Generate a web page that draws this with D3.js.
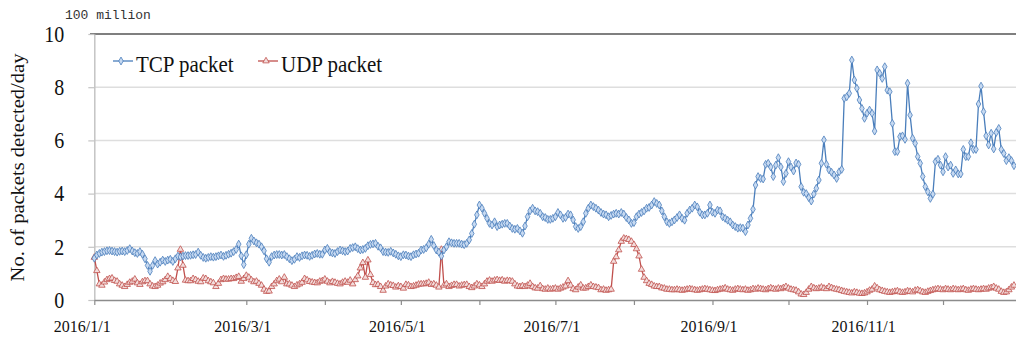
<!DOCTYPE html>
<html><head><meta charset="utf-8">
<script src="https://cdn.jsdelivr.net/npm/d3@7"></script>
<style>body{margin:0;background:#fff;} svg{display:block;}</style>
</head><body><svg id="c" width="1016" height="340"></svg>
<script>
const startDate = new Date(2016, 0, 1);
const seriesNames = ["TCP packet", "UDP packet"];
const unitLabel = "100 million";
const yTitle = "No. of packets detected/day";
const yTicks = [0, 2, 4, 6, 8, 10];

const tcpValues = [
1.57,1.69,1.75,1.80,1.82,1.85,1.86,1.84,1.82,1.80,
1.83,1.84,1.82,1.86,1.93,1.84,1.78,1.75,1.82,1.72,
1.55,1.30,1.08,1.30,1.48,1.35,1.42,1.50,1.45,1.50,
1.53,1.45,1.55,1.65,1.62,1.65,1.67,1.67,1.68,1.70,
1.71,1.80,1.68,1.60,1.57,1.60,1.63,1.61,1.63,1.66,
1.69,1.64,1.68,1.72,1.76,1.82,1.90,2.10,1.66,1.33,
1.70,2.10,2.32,2.22,2.15,2.10,2.00,1.85,1.55,1.42,
1.63,1.69,1.71,1.71,1.69,1.71,1.63,1.55,1.48,1.53,
1.63,1.60,1.66,1.69,1.68,1.64,1.68,1.73,1.75,1.72,
1.72,1.88,1.94,1.80,1.77,1.75,1.82,1.88,1.85,1.82,
1.84,1.94,1.97,2.00,1.93,1.88,1.90,1.94,2.04,2.09,
2.11,2.13,2.02,1.96,1.82,1.80,1.79,1.83,1.77,1.72,
1.66,1.63,1.70,1.69,1.65,1.63,1.70,1.73,1.76,1.88,
1.90,1.96,2.10,2.28,2.05,1.88,1.80,1.65,1.88,2.00,
2.19,2.15,2.13,2.13,2.13,2.10,2.08,2.13,2.26,2.50,
2.85,3.20,3.57,3.45,3.26,3.07,2.88,2.82,2.94,2.76,
2.82,2.85,2.88,2.88,2.78,2.69,2.66,2.69,2.60,2.51,
2.78,3.13,3.35,3.45,3.35,3.32,3.26,3.13,3.10,3.03,
3.03,3.07,3.13,3.29,3.20,3.07,3.10,3.23,3.20,3.01,
2.76,2.69,2.76,2.94,3.26,3.45,3.57,3.51,3.45,3.38,
3.29,3.23,3.20,3.13,3.18,3.23,3.26,3.23,3.29,3.23,
3.10,3.01,2.88,2.91,3.13,3.23,3.29,3.35,3.45,3.48,
3.57,3.70,3.63,3.57,3.35,3.13,2.94,2.88,2.94,3.01,
3.10,3.20,3.07,3.00,3.26,3.38,3.45,3.57,3.50,3.30,
3.20,3.20,3.26,3.57,3.30,3.26,3.38,3.35,3.13,3.07,
3.00,2.94,2.82,2.76,2.70,2.72,2.70,2.57,2.82,3.07,
3.41,4.32,4.64,4.57,4.55,5.10,5.14,5.00,4.64,5.07,
5.35,5.00,4.45,4.76,5.20,5.00,4.85,5.15,5.10,4.26,
4.05,4.00,3.85,3.72,3.98,4.20,4.51,5.14,6.02,5.10,
4.89,4.80,4.70,4.57,4.82,4.91,7.58,7.64,7.77,9.02,
8.27,7.96,7.52,7.20,6.83,7.02,7.14,7.02,6.35,8.65,
8.52,8.33,8.77,7.89,7.83,6.64,5.58,5.58,6.14,6.17,
6.04,8.15,6.95,6.08,5.89,5.39,5.14,4.64,4.26,4.07,
3.82,3.98,5.20,5.29,5.07,4.82,5.39,5.00,5.07,4.76,
4.89,4.74,4.74,5.66,5.39,5.39,5.91,5.66,5.66,7.37,
8.04,7.08,6.17,5.83,6.27,5.68,6.30,6.45,5.66,5.51,
5.24,5.35,5.24,5.05
];

const udpValues = [
1.60,1.10,0.60,0.55,0.67,0.76,0.80,0.82,0.73,0.70,
0.60,0.55,0.50,0.58,0.66,0.70,0.78,0.64,0.58,0.68,
0.72,0.72,0.60,0.52,0.50,0.55,0.63,0.68,0.76,0.88,
0.80,0.73,0.69,1.20,1.90,1.30,0.74,0.72,0.72,0.80,
0.76,0.70,0.68,0.82,0.80,0.72,0.68,0.64,0.50,0.62,
0.76,0.80,0.78,0.78,0.80,0.80,0.84,0.88,0.70,0.80,
0.92,0.85,0.75,0.68,0.70,0.62,0.55,0.40,0.32,0.33,
0.50,0.60,0.72,0.78,0.68,0.85,0.60,0.60,0.55,0.50,
0.56,0.60,0.66,0.80,0.75,0.69,0.67,0.65,0.64,0.70,
0.72,0.78,0.70,0.64,0.69,0.66,0.62,0.60,0.66,0.70,
0.66,0.74,0.60,0.76,0.90,1.20,1.40,0.85,1.50,0.95,
0.65,0.57,0.58,0.50,0.36,0.52,0.60,0.56,0.54,0.48,
0.53,0.50,0.44,0.58,0.56,0.50,0.52,0.55,0.59,0.60,
0.60,0.62,0.66,0.58,0.60,0.55,0.48,1.90,0.55,0.60,
0.50,0.54,0.58,0.58,0.52,0.55,0.57,0.58,0.50,0.46,
0.52,0.60,0.56,0.50,0.60,0.70,0.74,0.70,0.74,0.76,
0.73,0.75,0.70,0.73,0.72,0.70,0.60,0.52,0.50,0.53,
0.50,0.55,0.62,0.50,0.45,0.44,0.53,0.42,0.40,0.44,
0.40,0.42,0.44,0.40,0.44,0.48,0.52,0.72,0.55,0.42,
0.38,0.48,0.56,0.44,0.45,0.50,0.56,0.50,0.48,0.46,
0.38,0.40,0.36,0.38,0.40,1.45,1.62,1.88,2.20,2.32,
2.30,2.27,2.20,2.08,1.92,1.65,1.15,0.85,0.72,0.62,
0.58,0.52,0.50,0.50,0.45,0.44,0.40,0.40,0.38,0.38,
0.40,0.38,0.36,0.38,0.40,0.42,0.40,0.38,0.36,0.38,
0.40,0.42,0.40,0.38,0.36,0.35,0.38,0.40,0.42,0.45,
0.40,0.38,0.36,0.40,0.42,0.40,0.38,0.40,0.36,0.38,
0.42,0.40,0.44,0.42,0.40,0.38,0.42,0.45,0.42,0.40,
0.44,0.42,0.46,0.50,0.44,0.40,0.38,0.36,0.30,0.22,
0.20,0.28,0.40,0.50,0.45,0.42,0.44,0.48,0.44,0.42,
0.50,0.46,0.42,0.40,0.38,0.35,0.32,0.30,0.28,0.26,
0.30,0.28,0.25,0.24,0.26,0.30,0.36,0.40,0.52,0.45,
0.38,0.35,0.32,0.30,0.28,0.30,0.32,0.34,0.30,0.28,
0.30,0.34,0.32,0.30,0.36,0.38,0.34,0.30,0.28,0.32,
0.35,0.38,0.40,0.42,0.40,0.38,0.42,0.40,0.38,0.42,
0.40,0.38,0.40,0.42,0.38,0.36,0.40,0.42,0.40,0.38,
0.40,0.42,0.40,0.44,0.46,0.50,0.44,0.40,0.32,0.28,
0.30,0.38,0.48,0.55
];

const dates = d3.timeDay.range(startDate, d3.timeDay.offset(startDate, tcpValues.length));
const SY = 1.14;
const serif = "'Liberation Serif','Times New Roman',serif";

const svg = d3.select("#c");
const x = d3.scaleTime().domain([new Date(2016,0,1), new Date(2017,0,1)]).range([94.3, 94.3 + 366 * 2.5335]);
const y = d3.scaleLinear().domain([0, 10]).range([300, 34]);

// gridlines
svg.append("g").selectAll("line").data(yTicks.filter(d => d > 0 && d < 10)).join("line")
  .attr("x1", 94).attr("x2", 1016).attr("y1", d => y(d)).attr("y2", d => y(d))
  .attr("stroke", "#dedede").attr("stroke-width", 1.5);
// top border
svg.append("line").attr("x1", 90).attr("x2", 1016).attr("y1", y(10)).attr("y2", y(10))
  .attr("stroke", "#555").attr("stroke-width", 1.3);

// y axis
const yAxis = svg.append("g").attr("transform", "translate(94.3,0)")
  .call(d3.axisLeft(y).tickValues(yTicks).tickSize(6).tickSizeOuter(0).tickPadding(24));
yAxis.select(".domain").attr("stroke", "#c4c4c4").attr("stroke-width", 1.5);
yAxis.selectAll(".tick line").attr("stroke", "#c4c4c4").attr("stroke-width", 1.2);
yAxis.selectAll("text").attr("font-family", serif).attr("font-size", 20).attr("fill", "#111")
  .attr("transform", `scale(1,${SY})`);

// x axis
const months = d3.timeMonth.range(new Date(2016,0,1), new Date(2017,0,1));
const fmt = d3.timeFormat("%Y/%-m/%-d");
const xAxis = svg.append("g").attr("transform", "translate(0,300)")
  .call(d3.axisBottom(x).tickValues(months).tickSize(5).tickSizeOuter(0).tickPadding(16)
    .tickFormat(d => d.getMonth() % 2 === 0 ? fmt(d) : ""));
xAxis.select(".domain").attr("stroke", "#8c8c8c").attr("stroke-width", 1.5);
xAxis.selectAll(".tick line").attr("stroke", "#8c8c8c").attr("stroke-width", 1.2);
xAxis.selectAll("text").attr("font-family", serif).attr("font-size", 16).attr("fill", "#111")
  .attr("dx", (d, i) => i === 0 ? -12.5 : -4);

// series
const series = [
  {name: seriesNames[0], values: tcpValues, color: "#4a7ebb", fill: "#c6d9f1", sym: d3.symbolDiamond},
  {name: seriesNames[1], values: udpValues, color: "#c0504d", fill: "#f2dcdb", sym: d3.symbolTriangle}
];
const line = d3.line().x((d, i) => x(dates[i])).y(d => y(d));
series.slice().reverse().forEach(s => {
  const g = svg.append("g");
  g.append("path").attr("d", line(s.values)).attr("fill", "none").attr("stroke", s.color).attr("stroke-width", 1.3);
  g.selectAll("path.m").data(s.values).join("path").attr("class", "m")
    .attr("d", d3.symbol().type(s.sym).size(18))
    .attr("transform", (d, i) => `translate(${x(dates[i])},${y(d)})`)
    .attr("fill", s.fill).attr("stroke", s.color).attr("stroke-width", 0.8);
});

// legend
const legX = [113, 258];
series.forEach((s, i) => {
  const g = svg.append("g");
  g.append("line").attr("x1", legX[i]).attr("x2", legX[i] + 20).attr("y1", 61).attr("y2", 61)
    .attr("stroke", s.color).attr("stroke-width", 1.3);
  g.append("path").attr("d", d3.symbol().type(s.sym).size(18)())
    .attr("transform", `translate(${legX[i] + 8},61)`).attr("fill", s.fill).attr("stroke", s.color).attr("stroke-width", 0.8);
  g.append("text").attr("transform", `translate(${legX[i] + 23},71.7) scale(1,${SY})`)
    .attr("font-family", serif).attr("font-size", 21).attr("fill", "#111").text(s.name);
});

// unit label
svg.append("text").attr("x", 65).attr("y", 19).attr("font-family", "'Liberation Mono','DejaVu Sans Mono',monospace")
  .attr("font-size", 13).attr("fill", "#333").text(unitLabel);

// y title
svg.append("text").attr("transform", `translate(24,167.5) scale(1,${SY}) rotate(-90)`)
  .attr("text-anchor", "middle").attr("font-family", serif).attr("font-size", 18).attr("fill", "#111").text(yTitle);
</script></body></html>
